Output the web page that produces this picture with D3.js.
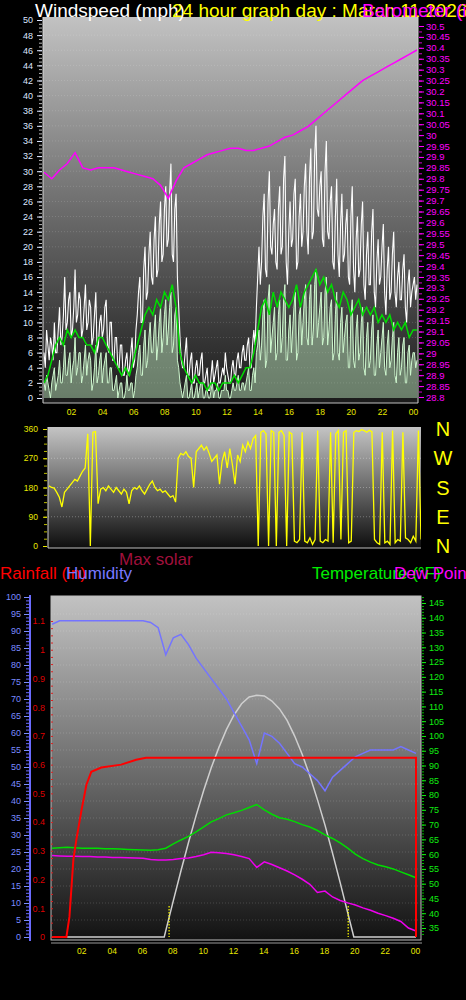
<!DOCTYPE html>
<html><head><meta charset="utf-8">
<script src="https://cdn.jsdelivr.net/npm/d3@7"></script>
<style>
body{margin:0;background:#000;}
svg{display:block;}
text{font-family:"Liberation Sans",Arial,sans-serif;}
</style>
</head><body>
<svg id="c" width="466" height="1000"></svg>
<script>
// ---------------- DATA ----------------
const titleWind = "Windspeed (mph)";
const titleMain = "24 hour graph day : March 11 2026";
const titlePress = "Barometer (in)";
const hourLabels = ["02","04","06","08","10","12","14","16","18","20","22","00"];
const hourTicks = [2,4,6,8,10,12,14,16,18,20,22,24];
const compass = ["N","W","S","E","N"];

// wind gust (mph), 5-minute samples 00:00 -> 24:00
const gust = [
  6,4,9,7,5,8,7,5,10,6,6,9,
  12,7,8,11,16,9,10,13,14,8,9,12,
  17,10,11,14,13,8,9,12,15,9,10,13,
  12,7,8,11,14,6,7,10,11,8,9,12,
  13,7,6,10,10,5,5,8,8,4,4,7,
  7,3,3,5,6,3,4,6,8,4,5,9,
  11,14,16,10,10,17,20,13,14,19,22,16,
  15,21,24,16,17,23,26,18,19,25,28,20,
  21,27,31,19,18,25,27,16,12,8,5,4,
  4,6,8,3,3,5,6,2,2,4,5,3,
  3,5,6,2,2,3,4,1,1,3,5,2,
  3,4,5,2,2,3,4,3,6,4,3,2,
  2,4,5,3,3,5,6,4,4,6,7,5,
  5,7,8,4,4,7,9,7,12,16,20,15,
  18,24,27,17,16,26,30,20,19,23,25,18,
  17,25,28,19,20,29,32,18,15,22,26,20,
  21,27,29,17,18,24,27,20,22,28,31,22,
  19,29,33,21,22,32,36,25,24,28,30,21,
  20,30,34,22,21,26,28,18,17,24,29,19,
  16,23,27,18,19,23,25,16,15,24,28,17,
  14,21,24,16,17,23,26,15,13,19,22,15,
  15,22,25,14,12,18,21,15,16,20,23,14,
  11,17,20,13,14,19,22,14,12,16,18,13,
  13,17,19,12,10,15,17,12,14,15,16,13, 15];
// wind speed (mph), 5-minute samples
const speed = [
  2,1,3,2,1,0,2,3,4,1,2,3,
  5,2,2,4,7,3,3,5,6,2,4,5,
  8,3,4,6,6,2,3,5,7,3,5,6,
  5,1,2,4,7,2,3,5,6,2,4,5,
  6,2,2,4,4,1,1,2,3,0,1,2,
  2,0,0,1,3,1,1,2,2,0,1,3,
  4,6,7,3,3,7,9,4,5,8,10,6,
  6,9,11,5,7,10,12,6,8,11,13,7,
  9,12,14,6,7,11,12,5,4,2,1,0,
  1,2,3,0,0,1,2,0,0,1,2,0,
  1,2,2,0,0,1,1,0,0,1,2,0,
  1,1,2,0,0,1,1,1,3,1,1,0,
  0,1,2,1,1,2,3,1,1,2,2,1,
  2,3,4,1,1,3,4,2,6,7,9,5,
  7,11,13,4,5,13,15,6,8,10,12,5,
  6,11,13,6,8,13,15,5,5,9,11,6,
  9,12,14,5,6,11,12,7,10,13,15,8,
  7,13,15,7,9,15,17,8,10,12,14,7,
  8,14,16,7,9,12,13,5,6,11,14,6,
  5,10,12,6,8,10,11,4,4,11,13,5,
  4,9,11,5,6,10,12,4,3,8,10,4,
  5,9,11,3,3,7,9,4,6,8,10,4,
  3,7,9,4,5,8,10,3,2,6,8,3,
  4,7,8,2,2,6,7,3,5,6,6,4, 5];
// average wind speed (mph), 15-minute samples
const avgSpeed = [2,3,5,7, 8,7,9,8, 9,8,8,7, 7,6,8,8, 7,6,5,4, 3,4,3,5,
  7,9,11,12, 11,13,12,14, 13,15,12,6, 4,3,2,3, 2,2,1,2, 2,1,2,2,
  2,3,2,3, 4,4,6,9, 12,13,11,14, 12,14,13,12, 13,15,12,14, 15,16,17,15,
  16,14,15,13, 12,14,13,11, 12,13,11,12, 11,12,10,11, 10,11,9,10, 9,10,8,9, 9];
// barometer (inHg), 30-minute samples
const pressure = [29.83,29.80,29.84,29.87,29.92,29.85,29.84,29.85,29.85,29.85,29.84,29.83,
  29.82,29.81,29.80,29.77,29.71,29.79,29.85,29.87,29.89,29.91,29.92,29.93,
  29.94,29.94,29.93,29.93,29.94,29.95,29.97,29.99,30.00,30.02,30.04,30.07,
  30.10,30.13,30.16,30.19,30.22,30.25,30.27,30.29,30.31,30.33,30.35,30.37,30.39];
// wind direction (degrees), 10-minute samples
const windDir = [185,180,178,165,150,120, 165,175,185,195,205,200, 215,230,240,345,0,350,
  352,130,175,180,170,185, 175,165,180,170,160,175, 165,130,170,180,175,185,
  170,160,175,190,200,180, 170,175,165,170,160,150, 155,135,270,285,280,290,
  275,270,180,290,300,310, 295,305,285,260,270,280, 190,260,290,240,300,250,
  190,280,260,310,290,320, 300,330,340,0,350,355, 345,0,355,350,0,350,
  355,340,0,350,345,15, 10,20,350,15,10,25, 5,20,355,15,10,20,
  15,350,10,345,355,20, 350,355,10,15,350,355, 352,358,355,350,356,352,
  20,10,5,350,10,15, 5,355,10,20,15,350, 25,20,10,30,15,355, 20];

// bottom panel, 30-minute samples
const humidity = [92,93,93,93,93,93,93,93,93,93,93,93,93,92.5,91,83,88,89,86,82,79,76,73,70,
  66,62,58,51,60,59,57,54,51,50,48,46,43,47,49,51,53,54,55,55,55,55,56,55,54];
const temperature = [62,62.2,62.3,62.2,62,62,62,61.8,61.8,61.7,61.6,61.5,61.4,61.3,61.5,62,
  63.5,64.8,66,67.5,69.2,70.9,72,73.3,74,74.8,75.8,76.8,75,73.5,72.3,71.8,71,70,69.2,68,
  66.5,65.3,63.8,62,60,58.5,57.3,56.3,55.7,55,54,53,52];
const dewPoint = [59.5,59.4,59.3,59.3,59.2,59.2,59,59,58.9,58.9,58.8,58.7,58.6,58.2,58,58,
  58.2,58.5,58.7,59.2,59.8,60.6,60.5,60.2,59.8,59.2,58.5,55.5,57.4,56.5,55.4,54.3,53,51.5,
  49.8,47,47.5,45.5,44.3,43.5,42.8,41.8,41,40,39.2,38.3,37.2,35,34];
const rainHours  = [0, 0.95, 1.15, 1.41, 1.61, 1.94, 2.27, 2.59, 3.25, 4.56, 5.55, 6.2, 24, 24];
const rainTotals = [0, 0, 0.07, 0.27, 0.34, 0.44, 0.53, 0.575, 0.59, 0.60, 0.617, 0.624, 0.624, 0];
const solarHours = [0,7.4,7.5,8,8.5,9,9.5,10,10.5,11,11.5,12,12.5,13,13.5,14,14.5,15,15.5,16,16.5,17,17.5,18,18.5,19,19.5,19.9,24];
const solarMax   = [0,0,18,107,194,278,357,431,498,557,610,653,686,706,711,709,694,671,637,591,537,474,404,329,246,160,71,0,0];
const sunEvents = [7.72, 19.53];

// ---------------- DRAWING ----------------
const svg = d3.select("#c");
const defs = svg.append("defs");
function grad(id, stops){
  const g = defs.append("linearGradient").attr("id",id).attr("x1",0).attr("y1",0).attr("x2",0).attr("y2",1);
  stops.forEach(([o,c]) => g.append("stop").attr("offset",o).attr("stop-color",c));
}
grad("gTop",[[0,"#c2c2c2"],[0.5,"#6c6c6c"],[1,"#1a1a1a"]]);
grad("gDir",[[0,"#c4c4c4"],[0.5,"#6a6a6a"],[1,"#0e0e0e"]]);
grad("gBot",[[0,"#c2c2c2"],[0.5,"#6e6e6e"],[1,"#121212"]]);

const uniformHours = arr => arr.map((_,i) => i*24/(arr.length-1));
const font = "Liberation Sans, Arial, sans-serif";

function styleAxis(g, color, fs){
  g.select(".domain").remove();
  g.selectAll(".tick line").attr("stroke", color);
  g.selectAll(".tick text").attr("fill", color).style("font-size", fs+"px").style("font-family", font);
}

// ===== TOP PANEL =====
const T = {l:43, r:418, t:17, b:403};
const xT = d3.scaleLinear().domain([0,24]).range([44,417]);
const yW = d3.scaleLinear().domain([0,50]).range([398,20]);
const yP = d3.scaleLinear().domain([28.8,30.5]).range([397,26]);

svg.append("rect").attr("x",T.l).attr("y",T.t).attr("width",T.r-T.l).attr("height",T.b-T.t).attr("fill","url(#gTop)");
svg.append("g").selectAll("line").data(d3.range(2,50,2)).join("line")
  .attr("x1",T.l).attr("x2",T.r).attr("y1",d=>yW(d)).attr("y2",d=>yW(d))
  .attr("stroke","rgba(255,255,255,0.15)").attr("stroke-dasharray","1,2");
svg.append("clipPath").attr("id","cpT").append("rect").attr("x",T.l).attr("y",T.t).attr("width",T.r-T.l).attr("height",T.b-T.t);
const gT = svg.append("g").attr("clip-path","url(#cpT)");

const spdH = uniformHours(speed);
gT.append("path").datum(speed).attr("fill","rgba(200,245,200,0.45)")
  .attr("d", d3.area().x((d,i)=>xT(spdH[i])).y0(yW(0)).y1(d=>yW(d)));
const gustH = uniformHours(gust);
gT.append("path").datum(gust).attr("fill","none").attr("stroke","#ffffff").attr("stroke-width",1.1)
  .attr("d", d3.line().x((d,i)=>xT(gustH[i])).y(d=>yW(d)));
gT.append("path").datum(speed).attr("fill","none").attr("stroke","#cff8cf").attr("stroke-width",1)
  .attr("d", d3.line().x((d,i)=>xT(spdH[i])).y(d=>yW(d)));
const avgH = uniformHours(avgSpeed);
gT.append("path").datum(avgSpeed).attr("fill","none").attr("stroke","#00dd00").attr("stroke-width",1.5)
  .attr("d", d3.line().x((d,i)=>xT(avgH[i])).y(d=>yW(d)));
const pH = uniformHours(pressure);
gT.append("path").datum(pressure).attr("fill","none").attr("stroke","#ff00ff").attr("stroke-width",1.5)
  .attr("d", d3.line().x((d,i)=>xT(pH[i])).y(d=>yP(d)));

// borders
svg.append("line").attr("x1",T.l).attr("x2",T.l).attr("y1",T.t).attr("y2",T.b).attr("stroke","#d8d8d8");
svg.append("line").attr("x1",T.l).attr("x2",T.r).attr("y1",T.b).attr("y2",T.b).attr("stroke","#c0c0c0");
svg.append("line").attr("x1",T.r).attr("x2",T.r).attr("y1",T.t).attr("y2",T.b).attr("stroke","#d0d0d0");

// left wind axis
svg.append("g").attr("transform",`translate(${T.l-1},0)`)
  .call(d3.axisLeft(yW).tickValues(d3.range(0,50.01,0.5)).tickSize(3).tickFormat(""))
  .call(g=>styleAxis(g,"#bbbbbb",9));
svg.append("g").attr("transform",`translate(${T.l-1},0)`)
  .call(d3.axisLeft(yW).tickValues(d3.range(0,51,2)).tickSize(5).tickPadding(4))
  .call(g=>styleAxis(g,"#dde6ff",9));
// right pressure axis
svg.append("g").attr("transform",`translate(${T.r+1},0)`)
  .call(d3.axisRight(yP).tickValues(d3.range(28.8,30.501,0.025)).tickSize(3).tickFormat(""))
  .call(g=>styleAxis(g,"#cc00cc",9));
svg.append("g").attr("transform",`translate(${T.r+1},0)`)
  .call(d3.axisRight(yP).tickValues(d3.range(0,35).map(i=>+(28.8+i*0.05).toFixed(2))).tickSize(5).tickPadding(2)
    .tickFormat(d=>String(+d.toFixed(2))))
  .call(g=>styleAxis(g,"#ff00ff",9.5));
// x labels
svg.append("g").attr("transform",`translate(-4,${T.b+1})`)
  .call(d3.axisBottom(xT).tickValues(hourTicks).tickSize(0).tickPadding(5).tickFormat((d,i)=>hourLabels[i]))
  .call(g=>styleAxis(g,"#e8e800",8.5));

// titles
svg.append("text").attr("x",35).attr("y",17).attr("fill","#ffffff").style("font-size","19px").text(titleWind);
svg.append("text").attr("x",172).attr("y",17).attr("fill","#ffff00").style("font-size","19px").text(titleMain);
svg.append("text").attr("x",362).attr("y",17).attr("fill","#ff00ff").style("font-size","19px").text(titlePress);

// ===== WIND DIRECTION PANEL =====
const D = {l:48, r:421, t:427, b:548};
const xD = d3.scaleLinear().domain([0,24]).range([49,421]);
const yD = d3.scaleLinear().domain([0,360]).range([546,429]);
svg.append("rect").attr("x",D.l).attr("y",D.t).attr("width",D.r-D.l).attr("height",D.b-D.t).attr("fill","url(#gDir)");
svg.append("g").selectAll("line").data([90,180,270]).join("line")
  .attr("x1",D.l).attr("x2",D.r).attr("y1",d=>yD(d)).attr("y2",d=>yD(d))
  .attr("stroke","rgba(255,255,255,0.3)").attr("stroke-dasharray","1,2");
svg.append("clipPath").attr("id","cpD").append("rect").attr("x",D.l).attr("y",D.t).attr("width",D.r-D.l).attr("height",D.b-D.t);
const dirH = uniformHours(windDir);
svg.append("g").attr("clip-path","url(#cpD)").append("path").datum(windDir)
  .attr("fill","none").attr("stroke","#ffff00").attr("stroke-width",1.3)
  .attr("d", d3.line().x((d,i)=>xD(dirH[i])).y(d=>yD(d)));
svg.append("line").attr("x1",D.l).attr("x2",D.l).attr("y1",D.t).attr("y2",D.b).attr("stroke","#d0d0d0");
svg.append("line").attr("x1",D.l).attr("x2",D.r).attr("y1",D.b).attr("y2",D.b).attr("stroke","#c0c0c0");
svg.append("g").attr("transform",`translate(${D.l-1},0)`)
  .call(d3.axisLeft(yD).tickValues(d3.range(0,361,22.5)).tickSize(3).tickFormat(""))
  .call(g=>styleAxis(g,"#bbbb00",9));
svg.append("g").attr("transform",`translate(${D.l-1},0)`)
  .call(d3.axisLeft(yD).tickValues([0,90,180,270,360]).tickSize(4).tickPadding(5))
  .call(g=>styleAxis(g,"#e8e800",8.5));
svg.append("g").selectAll("text").data(compass).join("text")
  .attr("x",443).attr("y",(d,i)=>yD(360-i*90)+7).attr("text-anchor","middle")
  .attr("fill","#ffff00").style("font-size","20px").text(d=>d);

// ===== BOTTOM PANEL =====
const B = {l:51, r:421, t:596, b:940};
const xB = d3.scaleLinear().domain([0,24]).range([52,416]);
const yH = d3.scaleLinear().domain([0,100]).range([937,597]);
const yR = d3.scaleLinear().domain([0,1.1]).range([937,621]);
const yTm = d3.scaleLinear().domain([35,145]).range([928,603]);
const ySol = d3.scaleLinear().domain([0,1000]).range([937,597]);

svg.append("rect").attr("x",B.l).attr("y",B.t).attr("width",B.r-B.l).attr("height",B.b-B.t).attr("fill","url(#gBot)");
svg.append("g").selectAll("line").data(d3.range(5,100,5)).join("line")
  .attr("x1",B.l).attr("x2",B.r).attr("y1",d=>yH(d)).attr("y2",d=>yH(d))
  .attr("stroke","rgba(255,255,255,0.16)").attr("stroke-dasharray","1,2");
svg.append("clipPath").attr("id","cpB").append("rect").attr("x",B.l).attr("y",B.t).attr("width",B.r-B.l).attr("height",B.b-B.t);
const gB = svg.append("g").attr("clip-path","url(#cpB)");

gB.append("path").datum(solarMax).attr("fill","none").attr("stroke","#cfcfcf").attr("stroke-width",1.5)
  .attr("d", d3.line().x((d,i)=>xB(solarHours[i])).y(d=>ySol(d)));
gB.selectAll("line.sun").data(sunEvents).join("line").attr("class","sun")
  .attr("x1",d=>xB(d)).attr("x2",d=>xB(d)).attr("y1",906).attr("y2",937)
  .attr("stroke","#ffff00").attr("stroke-width",1.2).attr("stroke-dasharray","1.5,1.5");
const hH = uniformHours(humidity);
gB.append("path").datum(humidity).attr("fill","none").attr("stroke","#7474ff").attr("stroke-width",1.5)
  .attr("d", d3.line().x((d,i)=>xB(hH[i])).y(d=>yH(d)));
const tH = uniformHours(temperature);
gB.append("path").datum(temperature).attr("fill","none").attr("stroke","#00dd00").attr("stroke-width",1.5)
  .attr("d", d3.line().x((d,i)=>xB(tH[i])).y(d=>yTm(d)));
const dH = uniformHours(dewPoint);
gB.append("path").datum(dewPoint).attr("fill","none").attr("stroke","#ee00ee").attr("stroke-width",1.5)
  .attr("d", d3.line().x((d,i)=>xB(dH[i])).y(d=>yTm(d)));
gB.append("path").datum(rainTotals).attr("fill","none").attr("stroke","#ff0000").attr("stroke-width",2)
  .attr("d", d3.line().x((d,i)=>xB(rainHours[i])).y(d=>yR(d)));

// borders
svg.append("rect").attr("x",B.l).attr("y",B.t).attr("width",B.r-B.l).attr("height",B.b-B.t)
  .attr("fill","none").attr("stroke","#bdbdbd");
svg.append("line").attr("x1",B.l).attr("x2",B.r+1).attr("y1",B.b+3).attr("y2",B.b+3).attr("stroke","#9a9a9a");

// humidity axis (blue)
svg.append("line").attr("x1",30).attr("x2",30).attr("y1",595).attr("y2",941).attr("stroke","#6b6bff").attr("stroke-width",2);
svg.append("g").attr("transform","translate(29,0)")
  .call(d3.axisLeft(yH).tickValues(d3.range(0,101,1)).tickSize(3).tickFormat(""))
  .call(g=>styleAxis(g,"#6b6bff",9));
svg.append("g").attr("transform","translate(29,0)")
  .call(d3.axisLeft(yH).tickValues(d3.range(0,101,5)).tickSize(5).tickPadding(3))
  .call(g=>styleAxis(g,"#7b8bff",9));
// rain axis (red)
svg.append("g").attr("transform",`translate(${B.l+2},0)`)
  .call(d3.axisLeft(yR).tickValues(d3.range(0,45).map(i=>i*0.025)).tickSize(2).tickFormat(""))
  .call(g=>styleAxis(g,"#dd2222",9));
svg.append("g").attr("transform",`translate(${B.l},0)`)
  .call(d3.axisLeft(yR).tickValues(d3.range(0,12).map(i=>+(i*0.1).toFixed(1))).tickSize(0).tickPadding(6)
    .tickFormat(d=>String(+d.toFixed(1))))
  .call(g=>styleAxis(g,"#dd0000",9));
// temperature axis (green)
svg.append("g").attr("transform",`translate(${B.r+1},0)`)
  .call(d3.axisRight(yTm).tickValues(d3.range(33,148,1)).tickSize(2).tickFormat(""))
  .call(g=>styleAxis(g,"#00bb00",9));
svg.append("g").attr("transform",`translate(${B.r+1},0)`)
  .call(d3.axisRight(yTm).tickValues(d3.range(35,146,5)).tickSize(4).tickPadding(3))
  .call(g=>styleAxis(g,"#11ee11",9));
// x labels
svg.append("g").attr("transform",`translate(-1,${B.b+3})`)
  .call(d3.axisBottom(xB).tickValues(hourTicks).tickSize(0).tickPadding(5).tickFormat((d,i)=>hourLabels[i]))
  .call(g=>styleAxis(g,"#e8e800",8.5));

// legends
svg.append("text").attr("x",119).attr("y",565).attr("fill","#a0103c").style("font-size","17px").text("Max solar");
svg.append("text").attr("x",0).attr("y",579).attr("fill","#ff0000").style("font-size","17px").text("Rainfall (in)");
svg.append("text").attr("x",66).attr("y",579).attr("fill","#7878ff").style("font-size","17px").text("Humidity");
svg.append("text").attr("x",312).attr("y",579).attr("fill","#00ee00").style("font-size","17px").text("Temperature (°F)");
svg.append("text").attr("x",394).attr("y",579).attr("fill","#ff00ff").style("font-size","17px").text("Dew Point (°F)");
</script>
</body></html>
